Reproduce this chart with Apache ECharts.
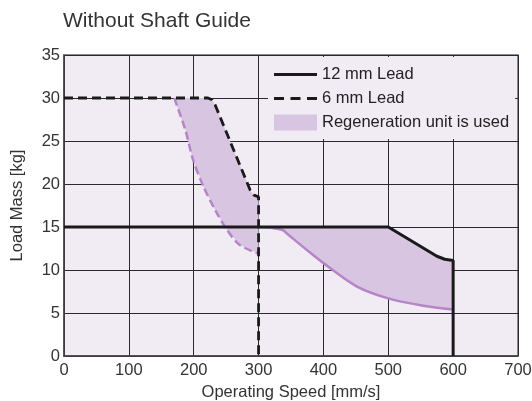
<!DOCTYPE html>
<html>
<head>
<meta charset="utf-8">
<script src="https://cdn.jsdelivr.net/npm/echarts@6/dist/echarts.min.js"></script>
<style>html,body{margin:0;padding:0;background:#fff}#c{width:532px;height:401px}</style>
</head>
<body>
<div id="c"></div>
<script>
// ---- data ----
const titleText = 'Without Shaft Guide';
const xName = 'Operating Speed [mm/s]';
const yName = 'Load Mass [kg]';
const xTicks = [0, 100, 200, 300, 400, 500, 600, 700];
const yTicks = [0, 5, 10, 15, 20, 25, 30, 35];
const seriesNames = ['12 mm Lead', '6 mm Lead', 'Regeneration unit is used'];
// 12 mm lead limit (solid black)
const lead12 = [[0,15],[500,15],[575,11.6],[587,11.25],[600,11.1],[600,0]];
// 6 mm lead limit (dashed black)
const lead6 = [[0,30],[222,30],[228,29.8],[233,29.2],[287,19.3],[293,18.7],[300,18.5],[300,0]];
// without regeneration unit, 12 mm lead (solid purple)
const regen12 = [[300,15],[320,14.9],[337,14.65],[345,14.15],[370,12.6],[400,10.8],[451,8.1],[500,6.7],[554,5.85],[600,5.4]];
// without regeneration unit, 6 mm lead (dashed purple)
const regen6 = [[170,30],[187,26.3],[199,22.8],[215,19.7],[233,17.0],[251,14.7],[271,12.9],[300,11.9]];

// ---- derived fill polygons (upper limit, then lower limit reversed) ----
const fill12 = [[300,15]].concat(lead12.filter(p => p[0] > 300 && p[1] > 0), regen12.slice().reverse());
const fill6 = [[170,30]].concat(lead6.filter(p => p[0] > 170 && p[1] > 0), regen6.slice().reverse());
const polygons = [fill12, fill6];

const FONT = 'Liberation Sans, Arial, sans-serif';
const bg = '#f1ecf4';
const fillColor = '#d8c5e2';
const purple = '#b784c8';
const ink = '#1a1a1a';

const chart = echarts.init(document.getElementById('c'), null, {renderer: 'canvas'});
chart.setOption({
  backgroundColor: '#ffffff',
  animation: false,
  textStyle: {fontFamily: FONT},
  title: {
    text: titleText, left: 58, top: 6,
    textStyle: {fontFamily: FONT, fontSize: 21, fontWeight: 'normal', color: '#333'}
  },
  grid: {left: 64, right: 14, top: 55, bottom: 45, show: true, containLabel: false,
    outerBoundsMode: 'none',
    backgroundColor: bg, borderColor: '#666', borderWidth: 1.5},
  legend: {
    orient: 'vertical', left: 268, top: 57,
    padding: [9, 6, 8, 6],
    backgroundColor: bg,
    itemWidth: 43, itemHeight: 16, itemGap: 7,
    textStyle: {fontFamily: FONT, fontSize: 16.5, color: '#222'},
    data: [
      {name: seriesNames[0], icon: 'path://M0,0H43V3H0Z'},
      {name: seriesNames[1], icon: 'path://M0,0H10V3H0Z M16.5,0H26.5V3H16.5Z M33,0H43V3H33Z'},
      {name: seriesNames[2], icon: 'rect', itemStyle: {color: fillColor}}
    ]
  },
  xAxis: {
    type: 'value', min: xTicks[0], max: xTicks[xTicks.length-1], interval: 100,
    name: xName, nameLocation: 'middle', nameGap: 25,
    nameTextStyle: {fontFamily: FONT, fontSize: 16.5, color: '#333'},
    axisLine: {show: true, lineStyle: {color: '#444', width: 1.5}},
    axisTick: {show: false},
    axisLabel: {margin: 6, fontFamily: FONT, fontSize: 16.5, color: '#333'},
    splitLine: {show: true, lineStyle: {color: '#2a2a2a', width: 1}}
  },
  yAxis: {
    type: 'value', min: yTicks[0], max: yTicks[yTicks.length-1], interval: 5,
    name: yName, nameLocation: 'middle', nameGap: 38, nameRotate: 90,
    nameTextStyle: {fontFamily: FONT, fontSize: 16.5, color: '#333'},
    axisLine: {show: true, lineStyle: {color: '#444', width: 1.5}},
    axisTick: {show: false},
    axisLabel: {margin: 4, fontFamily: FONT, fontSize: 16.5, color: '#333'},
    splitLine: {show: true, lineStyle: {color: '#2a2a2a', width: 1}}
  },
  series: [
    {
      name: seriesNames[2], type: 'custom', z: 1,
      itemStyle: {color: fillColor},
      data: [[0, 0]],
      renderItem: function (params, api) {
        return {
          type: 'group',
          children: polygons.map(poly => ({
            type: 'polygon',
            shape: {points: poly.map(p => api.coord(p))},
            style: {fill: fillColor, stroke: null}
          }))
        };
      }
    },
    {
      name: seriesNames[0] + ' regen', type: 'line', z: 2, data: regen12,
      symbol: 'none', smooth: 0.3, lineStyle: {color: purple, width: 2.5}
    },
    {
      name: seriesNames[1] + ' regen', type: 'line', z: 2, data: regen6,
      symbol: 'none', smooth: 0.3, lineStyle: {color: purple, width: 2.5, type: [8, 4]}
    },
    {
      name: seriesNames[0], type: 'line', z: 3, data: lead12,
      symbol: 'none', itemStyle: {color: ink},
      lineStyle: {color: ink, width: 3}
    },
    {
      name: seriesNames[1], type: 'line', z: 3, data: lead6,
      symbol: 'none', itemStyle: {color: ink},
      lineStyle: {color: ink, width: 2.8, type: [9, 5]}
    }
  ]
});
</script>
</body>
</html>
